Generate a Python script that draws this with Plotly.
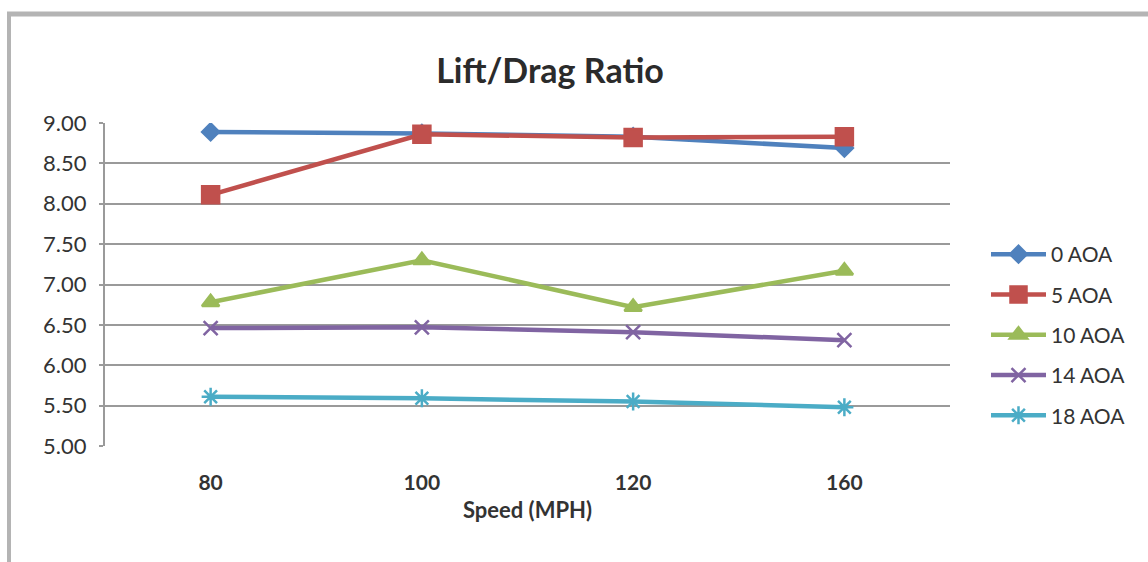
import plotly.graph_objects as go

speeds = ["80", "100", "120", "160"]
series_names = ["0 AOA", "5 AOA", "10 AOA", "14 AOA", "18 AOA"]
aoa_0 = [8.89, 8.87, 8.83, 8.69]
aoa_5 = [8.11, 8.86, 8.82, 8.83]
aoa_10 = [6.78, 7.30, 6.72, 7.17]
aoa_14 = [6.46, 6.47, 6.41, 6.31]
aoa_18 = [5.61, 5.59, 5.55, 5.48]
y_ticks = [5.0, 5.5, 6.0, 6.5, 7.0, 7.5, 8.0, 8.5, 9.0]

values = [aoa_0, aoa_5, aoa_10, aoa_14, aoa_18]
colors = ["#4F81BD", "#C0504D", "#9BBB59", "#8064A2", "#4BACC6"]
symbols = ["diamond", "square", "triangle-up", "x-thin-open", "asterisk-open"]
sizes = [13, 17, 15, 14, 15]

W, H = 1148, 562
L, R, T, B = 105, 198, 123, 116
pw, ph = W - L - R, H - T - B

fig = go.Figure()
for i, (name, vals) in enumerate(zip(series_names, values)):
    fig.add_trace(go.Scatter(
        x=speeds, y=vals, name=name, mode="lines+markers",
        legendgroup=name,
        line=dict(color=colors[i], width=4.5),
        marker=dict(symbol=symbols[i], size=sizes[i], color=colors[i],
                    line=dict(color=colors[i], width=2.5)),
    ))

font_family = "Lato, 'Open Sans', sans-serif"

def px_x(p):
    return (p - L) / pw

def px_y(p):
    return (H - B - p) / ph

fig.update_layout(
    width=W, height=H,
    margin=dict(l=L, r=R, t=T, b=B),
    paper_bgcolor="white", plot_bgcolor="white",
    font=dict(family=font_family, color="#3a3a3a", size=21),
    title=dict(text="<b>Lift/Drag Ratio</b>", x=550 / W, xanchor="center",
               y=1 - 71 / H, yanchor="middle",
               font=dict(size=34, family=font_family, color="#2b2b2b")),
    showlegend=True,
    legend=dict(x=px_x(986), xanchor="left", y=px_y(335), yanchor="middle",
                font=dict(size=21, family=font_family, color="#333333"),
                tracegroupgap=10, itemwidth=55, bgcolor="rgba(0,0,0,0)"),
    xaxis=dict(type="category", range=[-0.5, 3.5], showgrid=False,
               showline=False, ticks="", zeroline=False,
               tickfont=dict(size=21, family="Lato Bold, Lato, sans-serif", color="#333333",
                             weight="bold"),
               ticklabelstandoff=22,
               title=dict(text="<b>Speed (MPH)</b>", standoff=9,
                          font=dict(size=22, family=font_family, color="#333333"))),
    yaxis=dict(range=[5.0, 9.0], tickvals=y_ticks,
               ticktext=[f"{v:.2f}" for v in y_ticks],
               showgrid=True, gridcolor="#9a9a9a", gridwidth=2,
               showline=True, linecolor="#9a9a9a", linewidth=2,
               ticks="outside", ticklen=4, tickcolor="#9a9a9a", tickwidth=2,
               zeroline=False, ticklabelstandoff=8,
               tickfont=dict(size=22, family=font_family, color="#333333")),
    shapes=[
        dict(type="line", xref="paper", yref="paper",
             x0=px_x(7), x1=px_x(W + 5), y0=px_y(14), y1=px_y(14),
             line=dict(color="#b4b4b4", width=5)),
        dict(type="line", xref="paper", yref="paper",
             x0=px_x(9), x1=px_x(9), y0=px_y(12), y1=px_y(H + 5),
             line=dict(color="#b4b4b4", width=4)),
    ],
)

fig.write_html("out.html")
